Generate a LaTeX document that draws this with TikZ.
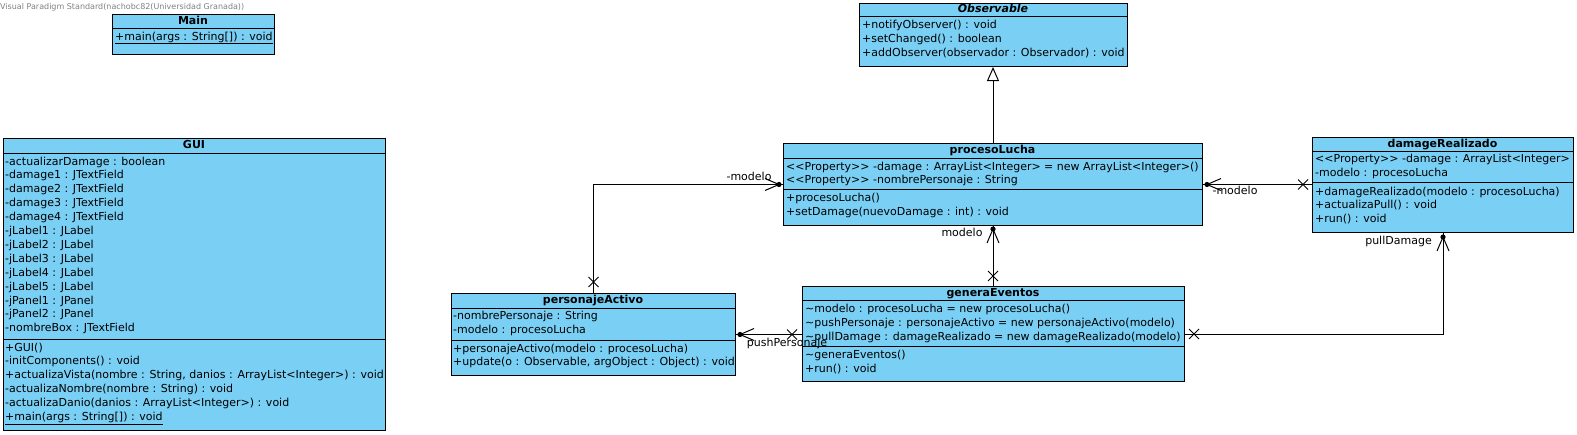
\documentclass[tikz,border=0pt]{standalone}
\usepackage{fontspec}
\setmainfont{DejaVu Sans}
\usetikzlibrary{arrows.meta,calc}
\definecolor{clsfill}{RGB}{122,207,245}
\definecolor{titlegray}{RGB}{128,128,128}
\newcommand\umlX[1]{\draw[conn] ($(#1)+(-5,-5)$) -- ($(#1)+(5,5)$) ($(#1)+(-5,5)$) -- ($(#1)+(5,-5)$);}
\newcommand\umlDotArrow[3]{%
  \fill (#1) circle[radius=2.6pt];
  \draw[conn] ($(#1)+(14*#2+6*#3,14*#3+6*#2)$) -- (#1) -- ($(#1)+(14*#2-6*#3,14*#3-6*#2)$);}
\begin{document}
\begin{tikzpicture}[x=1pt,y=-1pt,
  cls/.style={draw, fill=clsfill, line width=1pt, anchor=north west, inner sep=0pt},
  sepline/.style={line width=1pt},
  conn/.style={line width=1pt},
  txt/.style={anchor=west, inner sep=0pt, text height=8pt, text depth=2pt, font=\fontsize{11}{13}\selectfont},
  hdr/.style={inner sep=0pt, text height=8pt, text depth=2pt, font=\bfseries\fontsize{11}{13}\selectfont},
  lbl/.style={inner sep=0pt, text height=8pt, text depth=2pt, font=\fontsize{11}{13}\selectfont}]
\useasboundingbox (0,0) rectangle (1577,434);

\node[anchor=west, inner sep=0pt, text=titlegray, font=\fontsize{8}{9}\selectfont] (title) at (0,7) {Visual Paradigm Standard(nachobc82(Universidad Granada))};

% Main
\node[cls, minimum width=162pt, minimum height=40pt] (mn) at (112,14) {};
\draw[sepline] (mn.west |- 0,28) -- (mn.east |- 0,28);
\node[hdr] (mnh) at (193,21) {Main};
\node[txt] (mn1) at (115,37) {\underline{+main(args : String[]) : void}};

% Observable
\node[cls, minimum width=268pt, minimum height=63pt] (ob) at (859,3) {};
\draw[sepline] (ob.west |- 0,16) -- (ob.east |- 0,16);
\node[hdr, font=\bfseries\itshape\fontsize{11}{13}\selectfont] (obh) at (993,9.5) {Observable};
\node[txt] (ob1) at (862,25) {+notifyObserver() : void};
\node[txt] (ob2) at (862,39) {+setChanged() : boolean};
\node[txt] (ob3) at (862,53) {+addObserver(observador : Observador) : void};

% procesoLucha
\node[cls, minimum width=419pt, minimum height=82pt] (pl) at (783,143) {};
\draw[sepline] (pl.west |- 0,158) -- (pl.east |- 0,158);
\draw[sepline] (pl.west |- 0,189) -- (pl.east |- 0,189);
\node[hdr] (plh) at (992.5,150.5) {procesoLucha};
\node[txt] (pl1) at (786,167) {<{}<Property>{}> -damage : ArrayList<Integer> = new ArrayList<Integer>()};
\node[txt] (pl2) at (786,180) {<{}<Property>{}> -nombrePersonaje : String};
\node[txt] (pl3) at (786,198) {+procesoLucha()};
\node[txt] (pl4) at (786,212) {+setDamage(nuevoDamage : int) : void};

% damageRealizado
\node[cls, minimum width=261pt, minimum height=95pt] (dr) at (1312,137) {};
\draw[sepline] (dr.west |- 0,151) -- (dr.east |- 0,151);
\draw[sepline] (dr.west |- 0,182) -- (dr.east |- 0,182);
\node[hdr] (drh) at (1442.5,144) {damageRealizado};
\node[txt] (dr1) at (1315,159) {<{}<Property>{}> -damage : ArrayList<Integer>};
\node[txt] (dr2) at (1315,173) {-modelo : procesoLucha};
\node[txt] (dr3) at (1315,192) {+damageRealizado(modelo : procesoLucha)};
\node[txt] (dr4) at (1315,205) {+actualizaPull() : void};
\node[txt] (dr5) at (1315,219) {+run() : void};

% GUI
\node[cls, minimum width=382pt, minimum height=292pt] (gui) at (3,138) {};
\draw[sepline] (gui.west |- 0,153) -- (gui.east |- 0,153);
\draw[sepline] (gui.west |- 0,339) -- (gui.east |- 0,339);
\node[hdr] (guih) at (194,145.5) {GUI};
\foreach \t [count=\i from 0] in {-actualizarDamage : boolean,-damage1 : JTextField,-damage2 : JTextField,-damage3 : JTextField,-damage4 : JTextField,-jLabel1 : JLabel,-jLabel2 : JLabel,-jLabel3 : JLabel,-jLabel4 : JLabel,-jLabel5 : JLabel,-jPanel1 : JPanel,-jPanel2 : JPanel,-nombreBox : JTextField}
  \node[txt] (gua\i) at (5,162+13.9*\i) {\t};
\node[txt] (gum0) at (5,348) {+GUI()};
\node[txt] (gum1) at (5,361.9) {-initComponents() : void};
\node[txt] (gum2) at (5,375.8) {+actualizaVista(nombre : String, danios : ArrayList<Integer>) : void};
\node[txt] (gum3) at (5,389.7) {-actualizaNombre(nombre : String) : void};
\node[txt] (gum4) at (5,403.6) {-actualizaDanio(danios : ArrayList<Integer>) : void};
\node[txt] (gum5) at (5,417.5) {\underline{+main(args : String[]) : void}};

% personajeActivo
\node[cls, minimum width=284pt, minimum height=82pt] (pa) at (451,293) {};
\draw[sepline] (pa.west |- 0,308) -- (pa.east |- 0,308);
\draw[sepline] (pa.west |- 0,340) -- (pa.east |- 0,340);
\node[hdr] (pah) at (593,300.5) {personajeActivo};
\node[txt] (pa1) at (453,316) {-nombrePersonaje : String};
\node[txt] (pa2) at (453,330) {-modelo : procesoLucha};
\node[txt] (pa3) at (453,349) {+personajeActivo(modelo : procesoLucha)};
\node[txt] (pa4) at (453,362) {+update(o : Observable, argObject : Object) : void};

% generaEventos
\node[cls, minimum width=382pt, minimum height=95pt] (ge) at (802,286) {};
\draw[sepline] (ge.west |- 0,300) -- (ge.east |- 0,300);
\draw[sepline] (ge.west |- 0,346) -- (ge.east |- 0,346);
\node[hdr] (geh) at (993,293) {generaEventos};
\node[txt] (ge1) at (805,309) {\textasciitilde modelo : procesoLucha = new procesoLucha()};
\node[txt] (ge2) at (805,323) {\textasciitilde pushPersonaje : personajeActivo = new personajeActivo(modelo)};
\node[txt] (ge3) at (805,337) {\textasciitilde pullDamage : damageRealizado = new damageRealizado(modelo)};
\node[txt] (ge4) at (805,355) {\textasciitilde generaEventos()};
\node[txt] (ge5) at (805,369) {+run() : void};

% Generalization
\draw[conn, -{Triangle[open, length=14pt, width=12pt, line width=1pt]}] (pl.north) -- (pl.north |- ob.south);

% personajeActivo -- procesoLucha
\draw[conn] (pa.north) |- (pl.west);
\coordinate (t1) at ($(pl.west)+(-4,0)$);
\umlDotArrow{t1}{-1}{0}
\coordinate (x1) at ($(pa.north)+(0,-11)$);
\umlX{x1}
\node[lbl] (l1) at (749,177) {-modelo};

% procesoLucha -- damageRealizado
\draw[conn] (pl.east) -- (pl.east -| dr.west);
\coordinate (t2) at ($(pl.east)+(4,0)$);
\umlDotArrow{t2}{1}{0}
\coordinate (x2) at ($(pl.east -| dr.west)+(-9,0)$);
\umlX{x2}
\node[lbl] (l2) at (1235,191) {-modelo};

% procesoLucha -- generaEventos
\draw[conn] (pl.south) -- (pl.south |- ge.north);
\coordinate (t3) at ($(pl.south)+(0,3)$);
\umlDotArrow{t3}{0}{1}
\coordinate (x3) at ($(pl.south |- ge.north)+(0,-10)$);
\umlX{x3}
\node[lbl] (l3) at (962,233) {modelo};

% personajeActivo -- generaEventos
\draw[conn] (pa.east) -- (pa.east -| ge.west);
\coordinate (t4) at ($(pa.east)+(4,0)$);
\umlDotArrow{t4}{1}{0}
\coordinate (x4) at ($(pa.east -| ge.west)+(-10,0)$);
\umlX{x4}
\node[lbl] (l4) at (787,343) {pushPersonaje};

% generaEventos -- damageRealizado
\draw[conn] (ge.east) -| (dr.south);
\coordinate (t5) at ($(dr.south)+(0,4)$);
\umlDotArrow{t5}{0}{1}
\coordinate (x5) at ($(ge.east)+(9,0)$);
\umlX{x5}
\node[lbl] (l5) at (1398.5,241) {pullDamage};
\end{tikzpicture}
\end{document}
